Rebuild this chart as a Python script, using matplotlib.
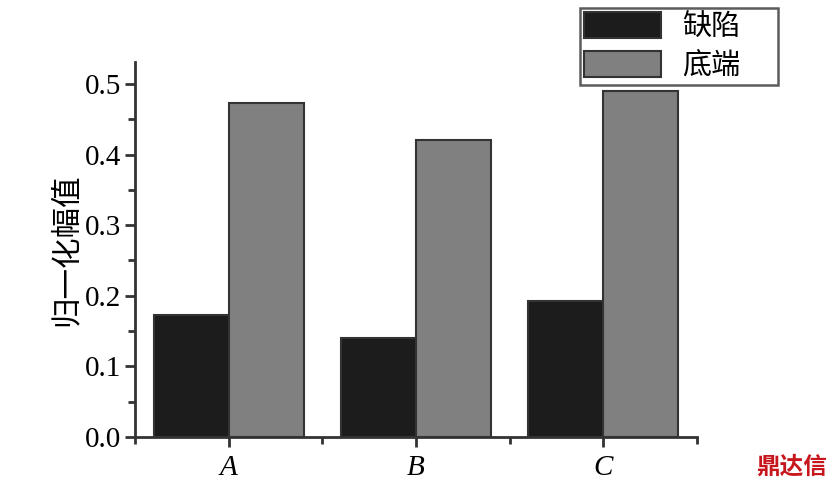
import numpy as np
import matplotlib
matplotlib.use('Agg')
from matplotlib import pyplot as plt
from matplotlib.ticker import MultipleLocator, FixedLocator

categories = ['A', 'B', 'C']
defect = [0.173, 0.14, 0.193]   # 缺陷
bottom = [0.473, 0.42, 0.49]    # 底端
series_labels = ['缺陷', '底端']
ylabel = '归一化幅值'

cjk = ['Noto Sans CJK SC', 'DejaVu Sans']
serif = 'Liberation Serif'
axc = '#333333'

fig = plt.figure(figsize=(8.37, 4.93), dpi=100)
ax = fig.add_axes([0.1613, 0.1136, 0.6714, 0.7604])

x = np.arange(len(categories))
w = 0.4
ax.bar(x - w / 2, defect, w, color='#1c1c1c', edgecolor=axc, linewidth=1.5, label=series_labels[0])
ax.bar(x + w / 2, bottom, w, color='#808080', edgecolor=axc, linewidth=1.5, label=series_labels[1])

ax.set_xlim(-0.5, 2.5)
ax.set_ylim(0, 0.531)
ax.set_xticks(x)
ax.set_xticklabels(categories, fontfamily=serif, fontstyle='italic', fontsize=21)
ax.xaxis.set_minor_locator(FixedLocator([-0.5, 0.5, 1.5, 2.5]))
ax.yaxis.set_major_locator(MultipleLocator(0.1))
ax.yaxis.set_minor_locator(MultipleLocator(0.05))
ax.set_yticklabels(['%.1f' % v for v in ax.get_yticks()], fontfamily=serif, fontsize=21)

for s in ['top', 'right']:
    ax.spines[s].set_visible(False)
for s in ['left', 'bottom']:
    ax.spines[s].set_color(axc)
    ax.spines[s].set_linewidth(2)
ax.tick_params(which='major', length=7, width=2, color=axc, direction='out')
ax.tick_params(which='minor', length=5, width=2, color=axc, direction='out')
ax.tick_params(axis='x', pad=6)
ax.tick_params(axis='y', pad=3)

ax.set_ylabel(ylabel, family=cjk, fontsize=22, labelpad=2)

# legend box roughly 580..778 px wide, 8..83 px tall
leg = ax.legend(loc='upper left', bbox_to_anchor=(0.693, 0.832, 0.237, 0.152),
                bbox_transform=fig.transFigure, mode='expand',
                borderaxespad=0, prop={'family': cjk, 'size': 21}, frameon=True, fancybox=False,
                handlelength=2.65, handleheight=1.0, handletextpad=0.7, labelspacing=0.3,
                borderpad=0.14)
leg.get_frame().set_edgecolor(axc)
leg.get_frame().set_linewidth(1.8)

fig.text(0.988, 0.03, '鼎达信', color='#c8161d', fontsize=17, fontweight='bold',
         family=cjk, ha='right', va='bottom')

fig.savefig('out.png', dpi=100)
